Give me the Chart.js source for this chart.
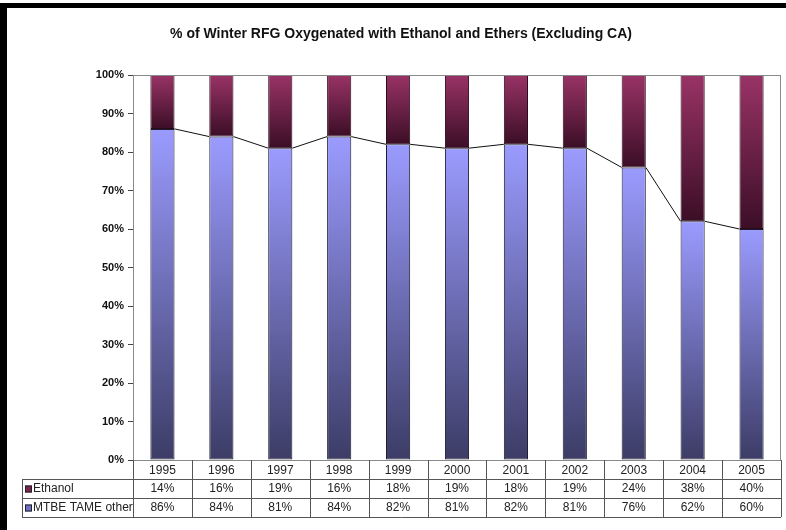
<!DOCTYPE html>
<html>
<head>
<meta charset="utf-8">
<script src="https://cdn.jsdelivr.net/npm/chart.js@4.4.1/dist/chart.umd.min.js"></script>
<style>
    html, body { margin: 0; padding: 0; background: #fff; }
    #wrap { position: relative; width: 786px; height: 530px; }
    #chart { position: absolute; left: 0; top: 0; }
    .frame { position: absolute; background: #000; }
</style>
</head>
<body>
<div id="wrap">
    <canvas id="chart" width="786" height="530"></canvas>
    <div class="frame" style="left:0; top:3px; width:786px; height:5px;"></div>
    <div class="frame" style="left:0; top:3px; width:7px; height:527px;"></div>
</div>
<script>
const chartTitle = '% of Winter RFG Oxygenated with Ethanol and Ethers (Excluding CA)';
const years = ['1995', '1996', '1997', '1998', '1999', '2000', '2001', '2002', '2003', '2004', '2005'];
const ethanol = [14, 16, 19, 16, 18, 19, 18, 19, 24, 38, 40];
const mtbe = [86, 84, 81, 84, 82, 81, 82, 81, 76, 62, 60];
const yTicks = [0, 10, 20, 30, 40, 50, 60, 70, 80, 90, 100];

const FONT = "Arial, 'Liberation Sans', sans-serif";

// dégradé vertical sur chaque barre (clair en haut, foncé en bas)
function barGradient(ctx, lowFn, highFn, topColor, bottomColor) {
    const chart = ctx.chart;
    const y = chart.scales && chart.scales.y;
    if (!chart.chartArea || !y || ctx.type !== 'data') return bottomColor;
    const i = ctx.dataIndex;
    const yTop = y.getPixelForValue(highFn(i));
    const yBot = y.getPixelForValue(lowFn(i));
    if (!isFinite(yTop) || !isFinite(yBot) || yTop === yBot) return bottomColor;
    const g = chart.ctx.createLinearGradient(0, yTop, 0, yBot);
    g.addColorStop(0, topColor);
    g.addColorStop(1, bottomColor);
    return g;
}

const tablePlugin = {
    id: 'tablePlugin',
    beforeDraw(chart) {
        const c = chart.ctx;
        c.save();
        c.fillStyle = '#fff';
        c.fillRect(0, 0, chart.width, chart.height);
        // titre
        c.fillStyle = '#111';
        c.font = 'bold 14px ' + FONT;
        c.textAlign = 'center';
        c.textBaseline = 'middle';
        c.fillText(chartTitle, 401, 34);
        c.restore();
    },
    afterDatasetsDraw(chart) {
        const c = chart.ctx;
        const meta = chart.getDatasetMeta(0);
        c.save();
        // lignes de série entre les sommets des barres MTBE
        c.strokeStyle = '#111';
        c.lineWidth = 1;
        c.beginPath();
        for (let i = 0; i < meta.data.length - 1; i++) {
            const a = meta.data[i], b = meta.data[i + 1];
            c.moveTo(a.x + a.width / 2, a.y);
            c.lineTo(b.x - b.width / 2, b.y);
        }
        c.stroke();
        // cadre de la zone de tracé
        const area = chart.chartArea;
        c.strokeStyle = '#8a8a8a';
        c.strokeRect(area.left + 0.5, area.top + 0.5, area.right - area.left - 1, area.bottom - area.top);
        c.restore();
    },
    afterDraw(chart) {
        const c = chart.ctx;
        const area = chart.chartArea;
        const x = chart.scales.x;
        const rowH = 19;
        const top = area.bottom;
        const r1 = top + rowH, r2 = top + rowH * 2, r3 = top + rowH * 3;
        const legLeft = 22;
        const half = (x.getPixelForValue(1) - x.getPixelForValue(0)) / 2;

        c.save();
        c.strokeStyle = '#555';
        c.lineWidth = 1;
        c.beginPath();
        // lignes horizontales
        [r1, r2, r3].forEach(yy => {
            c.moveTo(legLeft, Math.round(yy) + 0.5);
            c.lineTo(area.right, Math.round(yy) + 0.5);
        });
        c.moveTo(legLeft + 0.5, r1);
        c.lineTo(legLeft + 0.5, r3);
        // lignes verticales aux limites de catégories
        for (let i = 0; i <= years.length; i++) {
            const xx = Math.round(x.getPixelForValue(i) - half) + 0.5;
            c.moveTo(xx, top);
            c.lineTo(xx, r3);
        }
        c.stroke();

        const rows = [
            { label: 'Ethanol', data: ethanol, color: '#7a2450' },
            { label: 'MTBE TAME other', data: mtbe, color: '#7070c8' }
        ];
        c.font = '12px ' + FONT;
        c.textBaseline = 'middle';
        rows.forEach((row, r) => {
            const yc = r1 + rowH * r + rowH / 2 + 0.5;
            c.fillStyle = row.color;
            c.fillRect(legLeft + 3, yc - 3.5, 7, 7);
            c.strokeStyle = '#222';
            c.strokeRect(legLeft + 3.5, yc - 3, 6, 6);
            c.fillStyle = '#222';
            c.textAlign = 'left';
            c.fillText(row.label, legLeft + 11, yc);
            c.textAlign = 'center';
            row.data.forEach((v, i) => {
                c.fillText(v + '%', x.getPixelForValue(i), yc);
            });
        });
        c.restore();
    }
};

new Chart(document.getElementById('chart'), {
    type: 'bar',
    data: {
        labels: years,
        datasets: [
            {
                label: 'MTBE TAME other',
                data: mtbe,
                backgroundColor: ctx => barGradient(ctx, () => 0, i => mtbe[i], '#9b9bff', '#3c3c66'),
                borderColor: '#1c1c30',
                borderWidth: 1,
                borderSkipped: false,
                barPercentage: 0.41,
                categoryPercentage: 1
            },
            {
                label: 'Ethanol',
                data: ethanol,
                backgroundColor: ctx => barGradient(ctx, i => mtbe[i], i => mtbe[i] + ethanol[i], '#993366', '#3b0e26'),
                borderColor: '#2a0818',
                borderWidth: 1,
                borderSkipped: false,
                barPercentage: 0.41,
                categoryPercentage: 1
            }
        ]
    },
    options: {
        responsive: false,
        animation: false,
        layout: { padding: { top: 75, left: 7, right: 5, bottom: 14 } },
        plugins: {
            legend: { display: false },
            title: { display: false },
            tooltip: { enabled: false }
        },
        scales: {
            x: {
                stacked: true,
                grid: { display: false, drawTicks: false },
                border: { display: true, color: '#444' },
                ticks: {
                    color: '#222',
                    font: { family: FONT, size: 12 },
                    padding: 3,
                    maxRotation: 0,
                    autoSkip: false
                },
                afterFit(scale) { scale.height = 56; }
            },
            y: {
                stacked: true,
                min: 0,
                max: 100,
                afterBuildTicks(scale) { scale.ticks = yTicks.map(v => ({ value: v })); },
                grid: { drawOnChartArea: false, tickLength: 5, color: '#444' },
                border: { display: true, color: '#444' },
                ticks: {
                    color: '#111',
                    font: { family: FONT, size: 11, weight: 'bold' },
                    padding: 4,
                    callback: v => v + '%'
                },
                afterFit(scale) { scale.width = 126; }
            }
        }
    },
    plugins: [tablePlugin]
});
</script>
</body>
</html>
